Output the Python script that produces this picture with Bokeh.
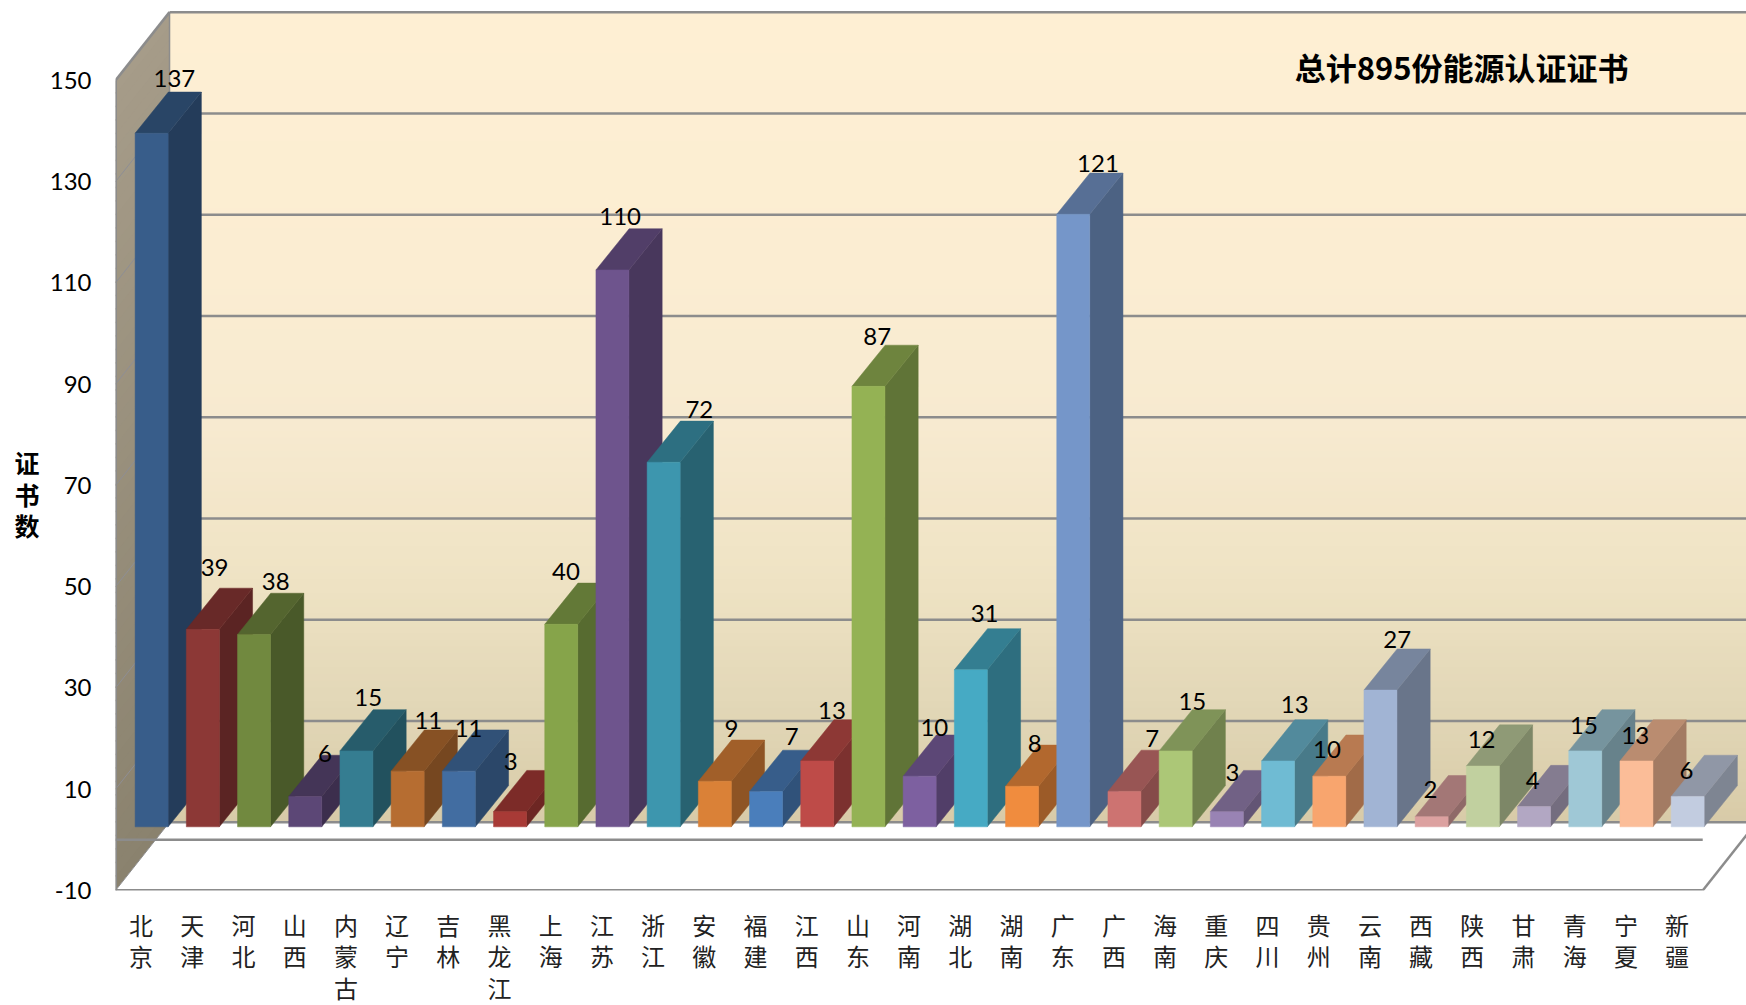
import numpy as np
from bokeh.core.properties import value
from bokeh.embed import file_html
from bokeh.models import ColumnDataSource, FixedTicker, Label, LinearAxis
from bokeh.plotting import figure
from bokeh.resources import INLINE

# ---------- chart data ----------
provinces = ["北京", "天津", "河北", "山西", "内蒙古", "辽宁", "吉林", "黑龙江", "上海", "江苏", "浙江",
             "安徽", "福建", "江西", "山东", "河南", "湖北", "湖南", "广东", "广西", "海南", "重庆",
             "四川", "贵州", "云南", "西藏", "陕西", "甘肃", "青海", "宁夏", "新疆"]
certificates = [137, 39, 38, 6, 15, 11, 11, 3, 40, 110, 72, 9, 7, 13, 87, 10, 31, 8, 121, 7, 15, 3,
                13, 10, 27, 2, 12, 4, 15, 13, 6]
y_ticks = [-10, 10, 30, 50, 70, 90, 110, 130, 150]
chart_title = "总计895份能源认证证书"
y_title_chars = ["证", "书", "数"]
y_title_at = [74.7, 68.4, 62.1]

# ---------- styles ----------
front_colors = ["#385D8A", "#8C3836", "#71893F", "#5C4776", "#357D91", "#B66D31", "#426DA1", "#A83A36",
                "#86A44A", "#6E548D", "#3D96AE", "#DA8137", "#4A7EBB", "#BE4B48", "#94B254", "#7D60A0",
                "#46AAC4", "#F08C3E", "#7596C9", "#CD7371", "#ACC777", "#9983B4", "#6FBBD3", "#F8A56E",
                "#A1B4D4", "#DCA1A0", "#C1D09F", "#B2A7C3", "#9FC8D6", "#FBBD98", "#C2CCE0"]
label_dx = [6, -5, 5, 3, -5, 4, -7, -16, -12, -9, 19, 0, 9, -2, -8, -2, -3, -4, 8, 11, 0, -11, 0, -19,
            0, -18, -18, -18, -18, -18, -18]
label_dy = [-14, -21, -12, -2, -12, -9, -1, -9, -12, -12, -12, -12, -14, -9, -9, -7, -15, -2, -10, -12,
            -8, 2, -15, 15, -9, 14, 15, 15, 16, 16, 15]
wall_stops_v = [3.2, 27, 52, 82, 112, 163.5]
wall_stops_rgb = [(216, 203, 168), (226, 215, 183), (239, 227, 196), (247, 234, 208), (251, 237, 210), (254, 239, 211)]
GRID = "#8C8C8C"

DX, DY = 1.055, 13.23      # bar depth projection, in data units
WDY = 13.5                 # wall depth projection
D1, D2 = 0.195, 0.81       # bar depth span
BAR = 0.6445               # bar width, in category units
X0, X1 = -0.5, 31.355
Y0, Y1 = -10, 165.8
n = len(certificates)


def proj(x, v, d):
    return x + d * DX, v + d * DY


def hex_rgb(c):
    return tuple(int(c[k:k + 2], 16) for k in (1, 3, 5))


def shade(c, f):
    return "#%02X%02X%02X" % tuple(int(round(a * f)) for a in hex_rgb(c))


p = figure(width=1746, height=1005, frame_width=1631, frame_height=890, x_range=(X0, X1), y_range=(Y0, Y1),
           output_backend="svg", toolbar_location=None, x_axis_location=None, y_axis_location=None,
           min_border_left=115, min_border_right=0, min_border_top=0, min_border_bottom=115,
           outline_line_color=None, background_fill_color="white", border_fill_color="white")
p.grid.visible = False

# back wall gradient
edges = np.linspace(-10 + WDY, 150 + WDY, 121)
mid = (edges[:-1] + edges[1:]) / 2
rgb = np.array([np.interp(mid, wall_stops_v, [s[k] for s in wall_stops_rgb]) for k in range(3)]).T
wall_cols = ["#%02X%02X%02X" % tuple(int(round(a)) for a in r) for r in rgb]
p.quad(left=X0 + DX, right=X1 + 2, bottom=edges[:-1], top=np.minimum(edges[1:] + 0.3, edges[-1]),
       fill_color=wall_cols, line_color=None)

# side wall gradient
side_edges = np.linspace(-10, 150, 61)
side_xs, side_ys, side_cols = [], [], []
for a, b in zip(side_edges[:-1], side_edges[1:]):
    t = ((a + b) / 2 + 10) / 160
    side_xs.append([X0, X0 + DX, X0 + DX, X0])
    top = min(b + 0.3, 150)
    side_ys.append([a, a + WDY, top + WDY, top])
    side_cols.append("#%02X%02X%02X" % tuple(int(round(u + (w - u) * t))
                                             for u, w in zip((138, 130, 110), (166, 156, 137))))
p.patches(side_xs, side_ys, fill_color=side_cols, line_color=None)

# floor
p.patch([X0, X0 + DX, 30.5 + DX, 30.5], [-10, -10 + WDY, -10 + WDY, -10], fill_color="white", line_color=None)

# side wall grid lines (thin), back wall grid lines
p.multi_line([[X0, X0 + DX] for t in y_ticks[1:-1]], [[t, t + WDY] for t in y_ticks[1:-1]],
             line_color="#8E8E94", line_width=1)
p.multi_line([[X0 + DX, X1 + 2] for t in y_ticks], [[t + WDY, t + WDY] for t in y_ticks],
             line_color=GRID, line_width=2.5)

# box edges
p.multi_line([[X0, X0], [X0, X0 + DX], [X0 + DX, X0 + DX], [X0, 30.5], [30.5, 30.5 + DX], [X0, X0 + DX], [X0, 30.5]],
             [[-10, 150], [150, 150 + WDY], [-10 + WDY, 150 + WDY], [-10, -10], [-10, -10 + WDY], [-10, -10 + WDY], [0, 0]],
             line_color=GRID, line_width=[3, 2.5, 1.5, 3, 2.5, 1, 2.5])

# bars: side, top and front faces, left to right
xs, ys, fills = [], [], []
for i, (v, c) in enumerate(zip(certificates, front_colors)):
    l, r = i - BAR / 2, i + BAR / 2
    a = [proj(r, 0, D1), proj(r, 0, D2), proj(r, v, D2), proj(r, v, D1)]
    b = [proj(l, v, D1), proj(r, v, D1), proj(r, v, D2), proj(l, v, D2)]
    f = [proj(l, 0, D1), proj(r, 0, D1), proj(r, v, D1), proj(l, v, D1)]
    for face, col in ((a, shade(c, 0.65)), (b, shade(c, 0.74)), (f, c)):
        xs.append([q[0] for q in face])
        ys.append([q[1] for q in face])
        fills.append(col)
p.patches(xs="xs", ys="ys", fill_color="fills", line_color="fills", line_width=0.5,
          source=ColumnDataSource(dict(xs=xs, ys=ys, fills=fills)))

# value labels
anchors = [proj(i - BAR / 2, v, D2) for i, v in enumerate(certificates)]
p.text(x="x", y="y", text="t", x_offset="ox", y_offset="oy", text_align="center", text_baseline="middle",
       text_font=value("Lato"), text_font_size="24px", text_color="black",
       source=ColumnDataSource(dict(x=[q[0] for q in anchors], y=[q[1] for q in anchors],
                                    t=[str(v) for v in certificates], ox=label_dx, oy=label_dy)))

# axes
ya = LinearAxis(ticker=FixedTicker(ticks=y_ticks))
ya.major_label_overrides = {t: str(t) for t in y_ticks}
ya.axis_line_color = None
ya.major_tick_line_color = None
ya.minor_tick_line_color = None
ya.major_label_standoff = 18
ya.major_label_text_font = "Lato"
ya.major_label_text_font_size = "24px"
ya.major_label_text_color = "black"
p.add_layout(ya, "left")

# vertical axis title, one character per line, set as a label axis left of the tick labels
yt = LinearAxis(ticker=FixedTicker(ticks=y_title_at))
yt.major_label_overrides = dict(zip(y_title_at, y_title_chars))
yt.axis_line_color = None
yt.major_tick_line_color = None
yt.minor_tick_line_color = None
yt.major_label_standoff = 1
yt.major_label_text_font = "Noto Sans CJK SC"
yt.major_label_text_font_size = "25px"
yt.major_label_text_font_style = "bold"
yt.major_label_text_color = "black"
p.add_layout(yt, "left")

xa = LinearAxis(ticker=FixedTicker(ticks=list(range(n))))
xa.major_label_overrides = {i: "\n".join(name) for i, name in enumerate(provinces)}
xa.axis_line_color = None
xa.major_tick_line_color = None
xa.minor_tick_line_color = None
xa.major_label_standoff = 10
xa.major_label_text_font = "Noto Sans CJK SC"
xa.major_label_text_font_size = "24px"
xa.major_label_text_line_height = 0.9
xa.major_label_text_color = "#222222"
p.add_layout(xa, "below")

p.add_layout(Label(x=25.79, y=152.7, text=chart_title, text_align="center", text_baseline="middle",
                   text_font="Noto Sans CJK SC", text_font_size="31px", text_font_style="bold",
                   text_color="black"))

open("out.html", "w").write(file_html(p, INLINE))
